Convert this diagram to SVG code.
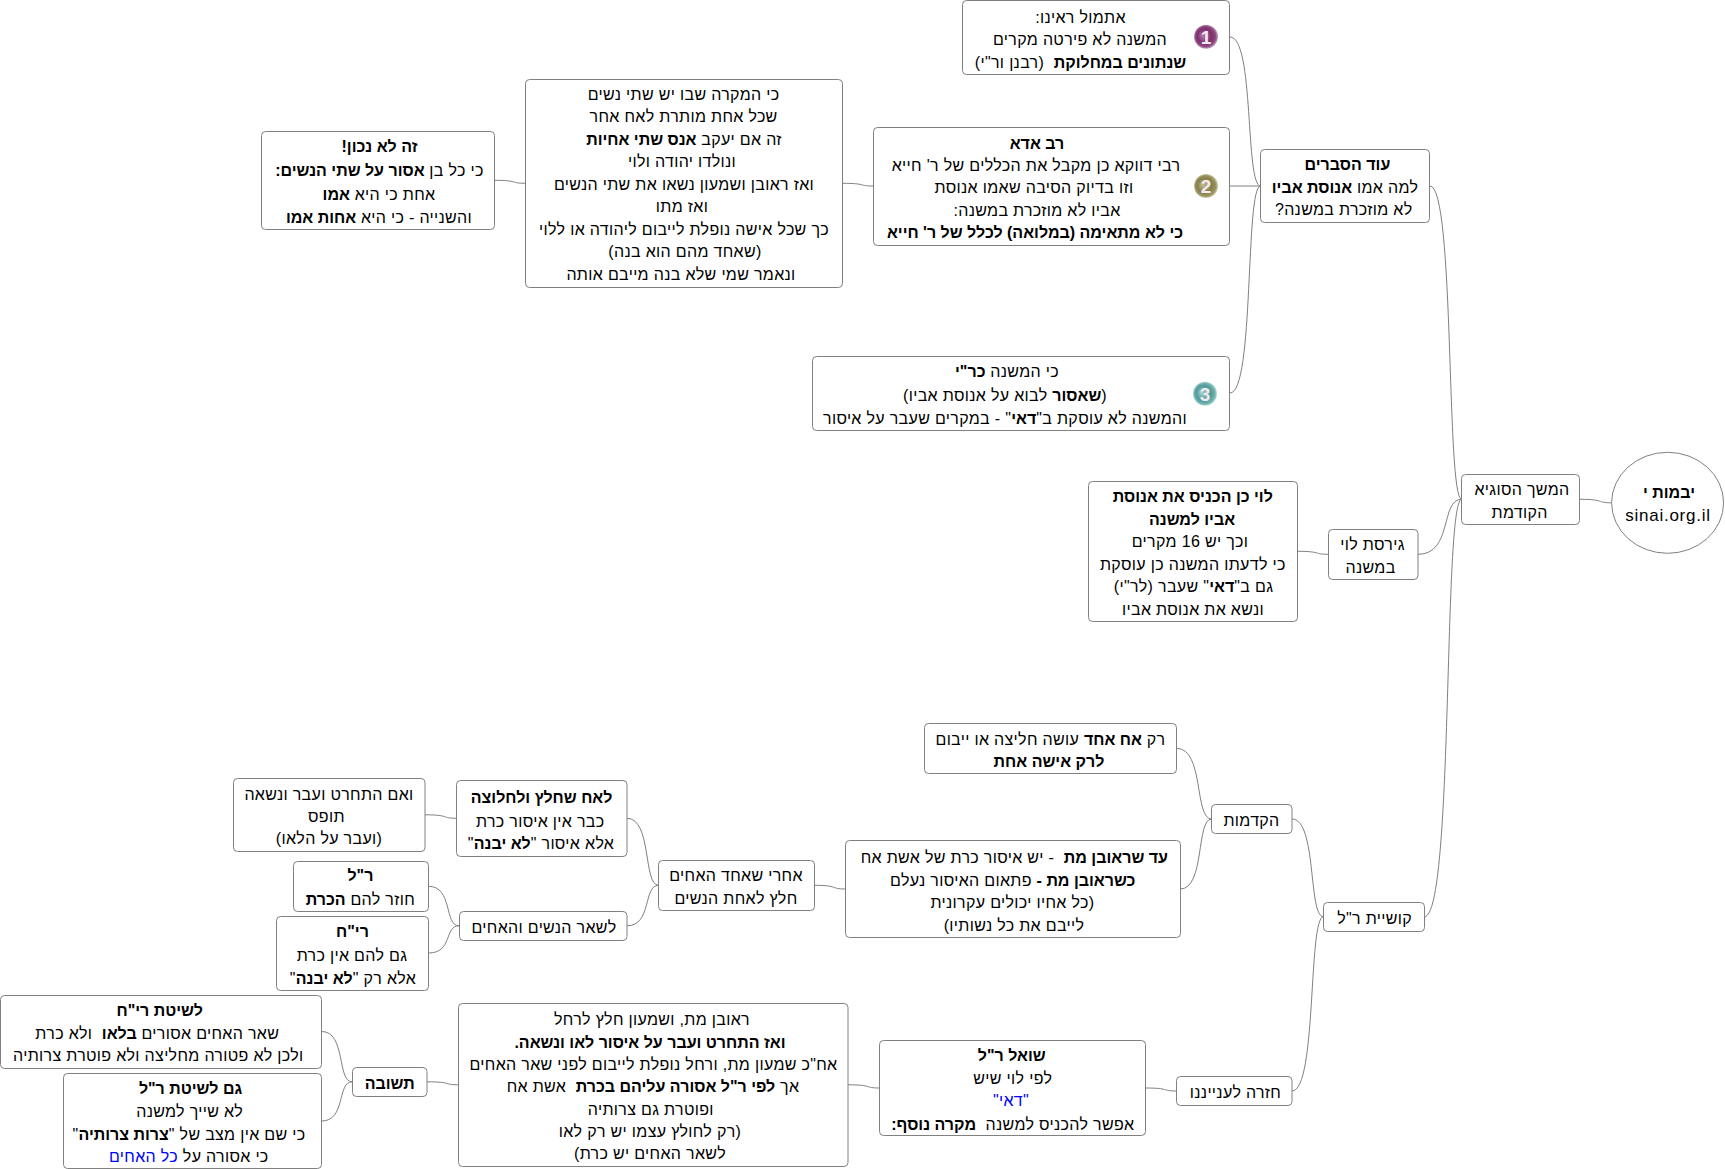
<svg xmlns="http://www.w3.org/2000/svg" width="1725" height="1169" viewBox="0 0 1725 1169">
<style>
text{font-family:"Liberation Sans","Arial",sans-serif;font-size:16px;fill:#000;text-anchor:middle;direction:rtl;white-space:pre;letter-spacing:.33px}
.b{font-weight:bold;letter-spacing:0}
.u{fill:#0000ff}
.box{fill:#fff;stroke:#808080;stroke-width:1}
.c{fill:none;stroke:#808080;stroke-width:1}
text.num{fill:#f3e9f0;font-size:19px;font-weight:bold;direction:ltr;letter-spacing:0}
text.ltr{direction:ltr;font-size:17px;letter-spacing:.75px}
</style>
<defs>
<radialGradient id="g1" cx="0.5" cy="0.5" r="0.5" fx="0.35" fy="0.45"><stop offset="0" stop-color="#b27aa6"/><stop offset="0.6" stop-color="#7d2f6c"/><stop offset="0.85" stop-color="#8f4a80"/><stop offset="1" stop-color="#c9a4c2"/></radialGradient>
<radialGradient id="g2" cx="0.5" cy="0.5" r="0.5" fx="0.35" fy="0.45"><stop offset="0" stop-color="#c2bd8c"/><stop offset="0.6" stop-color="#85804a"/><stop offset="0.85" stop-color="#98935f"/><stop offset="1" stop-color="#cfccaa"/></radialGradient>
<radialGradient id="g3" cx="0.5" cy="0.5" r="0.5" fx="0.35" fy="0.45"><stop offset="0" stop-color="#a8d4d2"/><stop offset="0.6" stop-color="#4f9a98"/><stop offset="0.85" stop-color="#6fb0ae"/><stop offset="1" stop-color="#b5dbd9"/></radialGradient>
</defs>
<rect width="1725" height="1169" fill="#fff"/>
<g id="connectors">
<path class="c" d="M1580 499.3C1605 499.3 1596 502.8 1611.5 502.8"/>
<path class="c" d="M1430 186C1455 186 1446 499.3 1461.7 499.3"/>
<path class="c" d="M1418 554.3C1453 554.3 1440 499.3 1461.7 499.3"/>
<path class="c" d="M1424.3 916.8C1454 916.8 1443 499.3 1461.7 499.3"/>
<path class="c" d="M1230 37C1254.5 37 1245 186 1260.6 186"/>
<path class="c" d="M1230 186L1260.6 186"/>
<path class="c" d="M1230 393C1254.5 393 1245 186 1260.6 186"/>
<path class="c" d="M842 183.3C867 183.3 858 186 873 186"/>
<path class="c" d="M494 180.3C519 180.3 510 183.3 525.5 183.3"/>
<path class="c" d="M1297 551.3C1322 551.3 1313 554.3 1328.5 554.3"/>
<path class="c" d="M1292 819C1317 819 1308 916.8 1323.5 916.8"/>
<path class="c" d="M1292 1091C1317 1091 1308 916.8 1323.5 916.8"/>
<path class="c" d="M1176.4 748.3C1204.5 748.3 1194 819 1211.6 819"/>
<path class="c" d="M1180.3 889C1205 889 1196 819 1211.6 819"/>
<path class="c" d="M814.3 885.3C839 885.3 830 889 845.4 889"/>
<path class="c" d="M627 818.3C652 818.3 643 885.3 658.5 885.3"/>
<path class="c" d="M627 925.8C652 925.8 643 885.3 658.5 885.3"/>
<path class="c" d="M425 814.8C450 814.8 441 818.3 456.5 818.3"/>
<path class="c" d="M428.4 886.3C453 886.3 444 925.8 459 925.8"/>
<path class="c" d="M428.4 953C453 953 444 925.8 459 925.8"/>
<path class="c" d="M1145.5 1088C1170 1088 1161 1091 1176.8 1091"/>
<path class="c" d="M848 1084.8C873 1084.8 864 1088 879.5 1088"/>
<path class="c" d="M427 1081.8C452 1081.8 443 1084.8 458.8 1084.8"/>
<path class="c" d="M321.7 1031.5C346 1031.5 337 1081.8 352 1081.8"/>
<path class="c" d="M321.7 1121C346 1121 337 1081.8 352 1081.8"/>
</g>
<g id="root">
<ellipse class="box" cx="1667.6" cy="502.8" rx="56" ry="50.5"/>
<text class="b" x="1669" y="498">יבמות י</text>
<text class="ltr" x="1668" y="520.7">sinai.org.il</text>
</g>
<g id="n-hemshech">
<rect class="box" x="1461.5" y="474.5" width="118" height="50" rx="4"/>
<text x="1522" y="495">המשך הסוגיא</text>
<text x="1519.7" y="518">הקודמת</text>
</g>
<g id="n-od">
<rect class="box" x="1260.5" y="149.5" width="169" height="73" rx="4"/>
<text class="b" x="1347.4" y="170">עוד הסברים</text>
<text x="1345" y="193">למה אמו <tspan class="b">אנוסת אביו</tspan></text>
<text x="1343.7" y="215">לא מוזכרת במשנה?</text>
</g>
<g id="n-1">
<rect class="box" x="962.5" y="0.5" width="267" height="74" rx="4"/>
<circle cx="1206" cy="36.7" r="12" fill="url(#g1)"/>
<text class="num" x="1206" y="43.5">1</text>
<text x="1080.5" y="23">אתמול ראינו:</text>
<text x="1080" y="45">המשנה לא פירטה מקרים</text>
<text x="1080.5" y="68"><tspan class="b">שנתונים במחלוקת</tspan>  (רבנן ור"י)</text>
</g>
<g id="n-2">
<rect class="box" x="873.5" y="127.5" width="356" height="118" rx="4"/>
<circle cx="1206" cy="186" r="12" fill="url(#g2)"/>
<text class="num" x="1206" y="193">2</text>
<text class="b" x="1037" y="148.5">רב אדא</text>
<text x="1036" y="171">רבי דווקא כן מקבל את הכללים של ר' חייא</text>
<text x="1034" y="193">וזו בדיוק הסיבה שאמו אנוסת</text>
<text x="1037" y="216">אביו לא מוזכרת במשנה:</text>
<text class="b" x="1035" y="238">כי לא מתאימה (במלואה) לכלל של ר' חייא</text>
</g>
<g id="n-3">
<rect class="box" x="812.5" y="356.5" width="417" height="74" rx="4"/>
<circle cx="1205" cy="393.7" r="12" fill="url(#g3)"/>
<text class="num" x="1205" y="400.5">3</text>
<text x="1007" y="377">כי המשנה <tspan class="b">כר"י</tspan></text>
<text x="1005" y="401">(<tspan class="b">שאסור</tspan> לבוא על אנוסת אביו)</text>
<text x="1005" y="424">והמשנה לא עוסקת ב"<tspan class="b">דאי</tspan>" - במקרים שעבר על איסור</text>
</g>
<g id="n-big">
<rect class="box" x="525.5" y="79.5" width="317" height="208" rx="4"/>
<text x="683.6" y="99.5">כי המקרה שבו יש שתי נשים</text>
<text x="683.6" y="122">שכל אחת מותרת לאח אחר</text>
<text x="684" y="144.5">זה אם יעקב <tspan class="b">אנס שתי אחיות</tspan></text>
<text x="682" y="167">ונולדו יהודה ולוי</text>
<text x="684" y="189.5">ואז ראובן ושמעון נשאו את שתי הנשים</text>
<text x="682" y="212">ואז מתו</text>
<text x="684" y="234.5">כך שכל אישה נופלת לייבום ליהודה או ללוי</text>
<text x="685" y="257">(שאחד מהם הוא בנה)</text>
<text x="681" y="279.5">ונאמר שמי שלא בנה מייבם אותה</text>
</g>
<g id="n-left">
<rect class="box" x="261.5" y="131.5" width="233" height="98" rx="4"/>
<text class="b" x="379.5" y="152">זה לא נכון!</text>
<text x="379.5" y="175.5">כי כל בן <tspan class="b">אסור על שתי הנשים:</tspan></text>
<text x="379" y="199.5">אחת כי היא <tspan class="b">אמו</tspan></text>
<text x="379" y="223">והשנייה - כי היא <tspan class="b">אחות אמו</tspan></text>
</g>
<g id="n-giresa">
<rect class="box" x="1328.5" y="529.5" width="89.5" height="50" rx="4"/>
<text x="1372.5" y="550">גירסת לוי</text>
<text x="1370.5" y="573">במשנה</text>
</g>
<g id="n-levi">
<rect class="box" x="1088.5" y="481.5" width="209" height="140" rx="4"/>
<text class="b" x="1192.8" y="502">לוי כן הכניס את אנוסת</text>
<text class="b" x="1192" y="525">אביו למשנה</text>
<text x="1190" y="547">וכך יש 16 מקרים</text>
<text x="1192.8" y="570">כי לדעתו המשנה כן עוסקת</text>
<text x="1193.5" y="592">גם ב"<tspan class="b">דאי</tspan>" שעבר (לר"י)</text>
<text x="1193" y="615">ונשא את אנוסת אביו</text>
</g>
<g id="n-kushia">
<rect class="box" x="1323.5" y="902.5" width="101" height="29" rx="4"/>
<text x="1374.6" y="924">קושיית ר"ל</text>
</g>
<g id="n-hakdamot">
<rect class="box" x="1211.5" y="804.5" width="80.5" height="29" rx="4"/>
<text x="1251.5" y="826">הקדמות</text>
</g>
<g id="n-rak">
<rect class="box" x="924.5" y="723.5" width="252" height="50" rx="4"/>
<text x="1050.4" y="744.5">רק <tspan class="b">אח אחד</tspan> עושה חליצה או ייבום</text>
<text class="b" x="1049" y="767">לרק אישה אחת</text>
</g>
<g id="n-ad">
<rect class="box" x="845.5" y="840.5" width="335" height="97" rx="4"/>
<text x="1014.3" y="863"><tspan class="b">עד שראובן מת</tspan>  - יש איסור כרת של אשת אח</text>
<text x="1012.7" y="885.5"><tspan class="b">כשראובן מת -</tspan> פתאום האיסור נעלם</text>
<text x="1012.4" y="908">(כל אחיו יכולים עקרונית</text>
<text x="1014" y="930.5">לייבם את כל נשותיו)</text>
</g>
<g id="n-acharei">
<rect class="box" x="658.5" y="860.5" width="156" height="50" rx="4"/>
<text x="736" y="881">אחרי שאחד האחים</text>
<text x="736" y="904">חלץ לאחת הנשים</text>
</g>
<g id="n-lach">
<rect class="box" x="456.5" y="780.5" width="170.5" height="76" rx="4"/>
<text class="b" x="541.6" y="803">לאח שחלץ ולחלוצה</text>
<text x="540.3" y="827">כבר אין איסור כרת</text>
<text x="541" y="849">אלא איסור "<tspan class="b">לא יבנה</tspan>"</text>
</g>
<g id="n-veim">
<rect class="box" x="233.5" y="778.5" width="191.5" height="73" rx="4"/>
<text x="329" y="800">ואם התחרט ועבר ונשאה</text>
<text x="326.4" y="822">תופס</text>
<text x="329" y="844">(ועבר על הלאו)</text>
</g>
<g id="n-lishar">
<rect class="box" x="459.5" y="911.5" width="167.5" height="29" rx="4"/>
<text x="544" y="933">לשאר הנשים והאחים</text>
</g>
<g id="n-rl">
<rect class="box" x="293.5" y="861.5" width="135" height="50" rx="4"/>
<text class="b" x="360.4" y="881">ר"ל</text>
<text x="360.4" y="905">חוזר להם <tspan class="b">הכרת</tspan></text>
</g>
<g id="n-rych">
<rect class="box" x="276.5" y="916.5" width="152" height="74" rx="4"/>
<text class="b" x="352.5" y="937">רי"ח</text>
<text x="352" y="961">גם להם אין כרת</text>
<text x="353" y="984">אלא רק "<tspan class="b">לא יבנה</tspan>"</text>
</g>
<g id="n-chazara">
<rect class="box" x="1176.5" y="1076.5" width="115.5" height="29" rx="4"/>
<text x="1235.5" y="1098">חזרה לענייננו</text>
</g>
<g id="n-shoel">
<rect class="box" x="879.5" y="1040.5" width="266" height="95" rx="4"/>
<text class="b" x="1011.7" y="1060.5">שואל ר"ל</text>
<text x="1012.8" y="1084">לפי לוי שיש</text>
<text class="u" x="1011" y="1106">"דאי"</text>
<text x="1012.8" y="1129.5">אפשר להכניס למשנה  <tspan class="b">מקרה נוסף:</tspan></text>
</g>
<g id="n-reuven">
<rect class="box" x="458.5" y="1003.5" width="389.5" height="163" rx="4"/>
<text x="652" y="1025">ראובן מת, ושמעון חלץ לרחל</text>
<text class="b" x="650" y="1048">ואז התחרט ועבר על איסור לאו ונשאה.</text>
<text x="653.5" y="1069.5">אח"כ שמעון מת, ורחל נופלת לייבום לפני שאר האחים</text>
<text x="653" y="1092">אך <tspan class="b">לפי ר"ל אסורה עליהם בכרת</tspan>  אשת אח</text>
<text x="650.8" y="1114.5">ופוטרת גם צרותיה</text>
<text x="650" y="1137">(רק לחולץ עצמו יש רק לאו</text>
<text x="650" y="1159">לשאר האחים יש כרת)</text>
</g>
<g id="n-tshuva">
<rect class="box" x="352.5" y="1067.5" width="74.5" height="29" rx="4"/>
<text class="b" x="389.7" y="1089">תשובה</text>
</g>
<g id="n-leshitat-rych">
<rect class="box" x="0.5" y="995.5" width="321" height="73" rx="4"/>
<text class="b" x="159.7" y="1016">לשיטת רי"ח</text>
<text x="157.3" y="1039">שאר האחים אסורים <tspan class="b">בלאו</tspan>  ולא כרת</text>
<text x="158.3" y="1061">ולכן לא פטורה מחליצה ולא פוטרת צרותיה</text>
</g>
<g id="n-gam">
<rect class="box" x="63.5" y="1073.5" width="258" height="95" rx="4"/>
<text class="b" x="190.5" y="1094">גם לשיטת ר"ל</text>
<text x="189.7" y="1117">לא שייך למשנה</text>
<text x="189" y="1139.5">כי שם אין מצב של "<tspan class="b">צרות צרותיה</tspan>"</text>
<text x="188.8" y="1162">כי אסורה על <tspan class="u">כל האחים</tspan></text>
</g>
</svg>
